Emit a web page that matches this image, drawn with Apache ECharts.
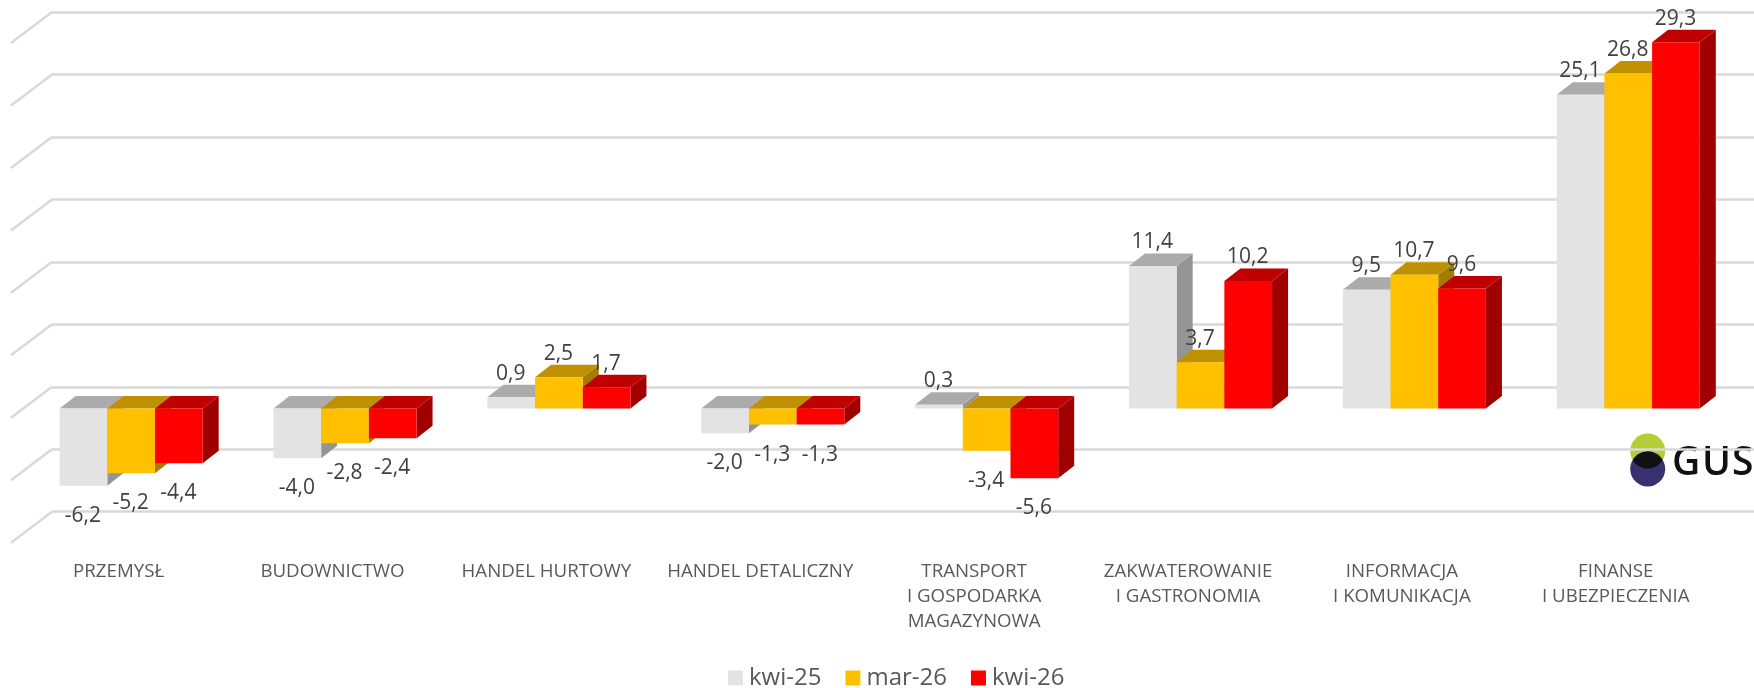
<!DOCTYPE html>
<html>
<head>
<meta charset="utf-8">
<style>
  html, body { margin: 0; padding: 0; background: #fff; }
  #chart { width: 1754px; height: 688px; }
</style>
<script src="https://cdn.jsdelivr.net/npm/echarts@6/dist/echarts.min.js"></script>
</head>
<body>
<div id="chart"></div>
<script>
const categories = [
  'PRZEMYSŁ',
  'BUDOWNICTWO',
  'HANDEL HURTOWY',
  'HANDEL DETALICZNY',
  'TRANSPORT\nI GOSPODARKA\nMAGAZYNOWA',
  'ZAKWATEROWANIE\nI GASTRONOMIA',
  'INFORMACJA\nI KOMUNIKACJA',
  'FINANSE\nI UBEZPIECZENIA'
]
const kwi25 = [-6.2, -4.0, 0.9, -2.0, 0.3, 11.4, 9.5, 25.1]
const mar26 = [-5.2, -2.8, 2.5, -1.3, -3.4, 3.7, 10.7, 26.8]
const kwi26 = [-4.4, -2.4, 1.7, -1.3, -5.6, 10.2, 9.6, 29.3]
const wallTicks = [-10, -5, 0, 5, 10, 15, 20, 25, 30]

const depthX = 16
const depthY = 12.5
const wallX = 41
const wallY = 31
const gridColor = '#d9d9d9'

// 3d look: front, top and side face of every bar
function barRenderer(order, front, top, side) {
  return function (params, api) {
    const idx = api.value(0)
    const val = api.value(1)
    const band = api.size([1, 0])[0]
    const w = band * 0.223
    const center = api.coord([idx, 0])[0] + 12.5
    const x0 = center + (order - 1.5) * w
    const x1 = x0 + w
    const zero = api.coord([idx, 0])[1]
    const y = api.coord([idx, val])[1]
    const upper = Math.min(zero, y)
    const lower = Math.max(zero, y)
    return {
      type: 'group',
      children: [
        {
          type: 'polygon',
          shape: { points: [[x1, upper], [x1 + depthX, upper - depthY], [x1 + depthX, lower - depthY], [x1, lower]] },
          style: { fill: side }
        },
        {
          type: 'polygon',
          shape: { points: [[x0, upper], [x0 + depthX, upper - depthY], [x1 + depthX, upper - depthY], [x1, upper]] },
          style: { fill: top }
        },
        {
          type: 'rect',
          shape: { x: x0, y: upper, width: w, height: lower - upper },
          style: { fill: front }
        },
        {
          type: 'text',
          z2: 100,
          style: {
            x: x0 + w / 2 - 0.5,
            y: val >= 0 ? y - 23.5 : y + 30,
            text: val.toFixed(1).replace('.', ','),
            fill: '#404040',
            font: '21px "Open Sans"',
            align: 'center',
            verticalAlign: 'middle'
          }
        }
      ]
    }
  }
}

function barSeries(name, values, order, front, top, side) {
  return {
    name: name,
    type: 'custom',
    xAxisIndex: 0,
    yAxisIndex: 0,
    itemStyle: { color: front },
    encode: { x: 0, y: 1 },
    data: values.map((v, i) => [i, v]),
    renderItem: barRenderer(order, front, top, side)
  }
}

// the slanted part of the wall, going from the back plane to the front
const wallSeries = {
  type: 'custom',
  xAxisIndex: 1,
  yAxisIndex: 1,
  silent: true,
  encode: { x: 0, y: 1 },
  data: wallTicks.map(v => [0, v]),
  renderItem: function (params, api) {
    const p = api.coord([api.value(0), api.value(1)])
    return {
      type: 'polyline',
      shape: { points: [[p[0] - wallX, p[1] + wallY], p] },
      style: { stroke: gridColor, lineWidth: 2.5, fill: null }
    }
  }
}

// GUS logo
const lens = []
for (let a = -59; a <= 59; a += 6) {
  const r = a * Math.PI / 180
  lens.push([1647.7 + 17.5 * Math.sin(r), 451 + 17.5 * Math.cos(r)])
}
for (let a = 59; a >= -59; a -= 6) {
  const r = a * Math.PI / 180
  lens.push([1647.7 + 17.5 * Math.sin(r), 469 - 17.5 * Math.cos(r)])
}
const logoFont = '600 39px "Open Sans"'
const logo = [
  { type: 'circle', z: -1, shape: { cx: 1647.7, cy: 451, r: 17.5 }, style: { fill: '#b5cc34' } },
  { type: 'circle', z: -1, shape: { cx: 1647.7, cy: 469, r: 17.5 }, style: { fill: '#38306f' } },
  { type: 'polygon', z: -1, shape: { points: lens }, style: { fill: '#0e1210' } },
  { type: 'text', z: -1, x: 1672, y: 444, style: { text: 'G', fill: '#111', font: logoFont } },
  { type: 'text', z: -1, x: 1702, y: 444, style: { text: 'U', fill: '#111', font: logoFont } },
  { type: 'text', z: -1, x: 1732, y: 444, style: { text: 'S', fill: '#111', font: logoFont } }
]

const chart = echarts.init(document.getElementById('chart'), null, { renderer: 'canvas' })
chart.setOption({
  animation: false,
  backgroundColor: '#fff',
  textStyle: { fontFamily: '"Open Sans"' },
  graphic: { elements: logo },
  legend: {
    left: 723,
    top: 661,
    icon: 'rect',
    itemWidth: 15,
    itemHeight: 15,
    itemGap: 24,
    itemStyle: { borderWidth: 0 },
    textStyle: { fontSize: 24, color: '#595959', fontFamily: '"Open Sans"', padding: [0, 0, 0, 1] },
    data: ['kwi-25', 'mar-26', 'kwi-26']
  },
  grid: [
    { left: 11.7, width: 1711, top: 33.6, height: 499.7 },
    { left: 52, right: 0, top: 12, height: 499.7 }
  ],
  xAxis: [
    {
      type: 'category',
      gridIndex: 0,
      data: categories,
      axisLine: { show: false },
      axisTick: { show: false },
      axisLabel: {
        interval: 0,
        margin: 25.5,
        fontSize: 18.7,
        lineHeight: 25,
        color: '#595959',
        fontFamily: '"Open Sans"'
      }
    },
    { type: 'value', gridIndex: 1, min: 0, max: 1, show: false }
  ],
  yAxis: [
    {
      type: 'value',
      gridIndex: 0,
      min: -10,
      max: 30,
      interval: 5,
      axisLabel: { show: false },
      axisLine: { show: false },
      axisTick: { show: false },
      splitLine: { show: false }
    },
    {
      type: 'value',
      gridIndex: 1,
      min: -10,
      max: 30,
      interval: 5,
      axisLabel: { show: false },
      axisLine: { show: false },
      axisTick: { show: false },
      splitLine: { show: true, lineStyle: { color: gridColor, width: 2.5 } }
    }
  ],
  series: [
    wallSeries,
    barSeries('kwi-25', kwi25, 0, '#e3e3e3', '#ababab', '#949494'),
    barSeries('mar-26', mar26, 1, '#ffc000', '#bf9000', '#a67c00'),
    barSeries('kwi-26', kwi26, 2, '#ff0000', '#bf0000', '#a00000')
  ]
})
</script>
</body>
</html>
